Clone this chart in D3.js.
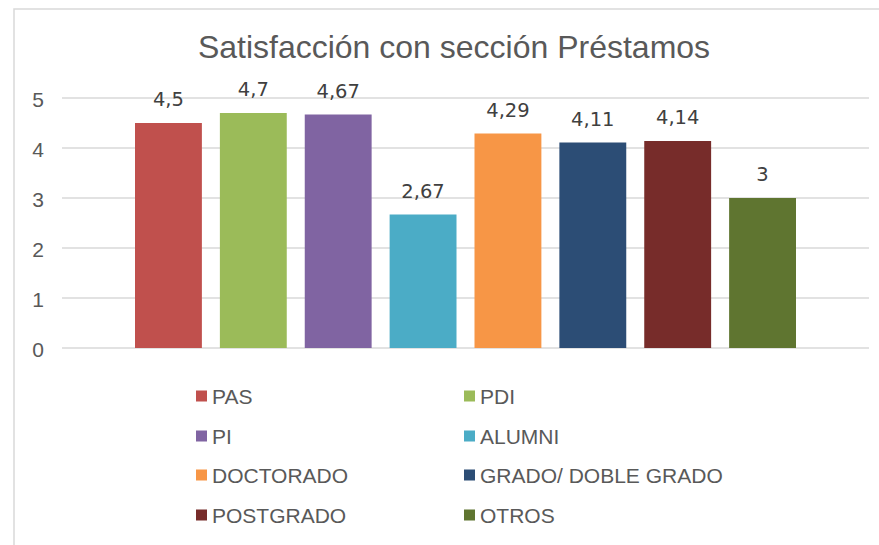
<!DOCTYPE html>
<html>
<head>
<meta charset="utf-8">
<script src="https://cdn.jsdelivr.net/npm/d3@7"></script>
<style>
  html, body { margin: 0; padding: 0; background: #ffffff; }
  svg { display: block; }
</style>
</head>
<body>
<svg id="chart" width="879" height="545"></svg>
<script>
const title = "Satisfacción con sección Préstamos";
const categories = ["PAS", "PDI", "PI", "ALUMNI", "DOCTORADO", "GRADO/ DOBLE GRADO", "POSTGRADO", "OTROS"];
const values = [4.5, 4.7, 4.67, 2.67, 4.29, 4.11, 4.14, 3];
const valueLabels = ["4,5", "4,7", "4,67", "2,67", "4,29", "4,11", "4,14", "3"];
const colors = ["#C0504D", "#9BBB59", "#8064A2", "#4BACC6", "#F79646", "#2C4D75", "#772C2A", "#5F7530"];
const yTicks = [0, 1, 2, 3, 4, 5];

const svg = d3.select("#chart");

// chart frame
svg.append("rect")
  .attr("x", 14).attr("y", 9)
  .attr("width", 880).attr("height", 560)
  .attr("fill", "#ffffff")
  .attr("stroke", "#d9d9d9").attr("stroke-width", 1.5);

// title
svg.append("text")
  .attr("x", 454).attr("y", 58)
  .attr("text-anchor", "middle")
  .attr("font-family", "Liberation Sans, Arial, sans-serif")
  .attr("font-size", 32)
  .attr("fill", "#595959")
  .text(title);

const plotLeft = 62, plotRight = 869;
const y = d3.scaleLinear().domain([0, 5]).range([348, 98]);
const x = d3.scaleBand().domain(categories).range([135, 796]).paddingInner(0.212).paddingOuter(0);

// gridlines
svg.append("g").selectAll("line")
  .data(yTicks)
  .join("line")
  .attr("x1", plotLeft).attr("x2", plotRight)
  .attr("y1", d => y(d)).attr("y2", d => y(d))
  .attr("stroke", "#d9d9d9").attr("stroke-width", 1.5);

// y axis labels
const yAxis = d3.axisLeft(y).tickValues(yTicks).tickSize(0).tickPadding(0).tickFormat(d3.format("d"));
const yg = svg.append("g").attr("transform", "translate(44,0)").call(yAxis);
yg.select(".domain").remove();
yg.selectAll("text")
  .attr("font-family", "Liberation Sans, Arial, sans-serif")
  .attr("font-size", 21)
  .attr("fill", "#595959")
  .attr("dy", "0.4em");

// bars
svg.append("g").selectAll("rect")
  .data(categories)
  .join("rect")
  .attr("x", d => x(d))
  .attr("width", x.bandwidth())
  .attr("y", (d, i) => y(values[i]))
  .attr("height", (d, i) => y(0) - y(values[i]))
  .attr("fill", (d, i) => colors[i]);

// data labels
svg.append("g").selectAll("text")
  .data(categories)
  .join("text")
  .attr("x", d => x(d) + x.bandwidth() / 2)
  .attr("y", (d, i) => y(values[i]) - 17)
  .attr("text-anchor", "middle")
  .attr("font-family", "DejaVu Sans, sans-serif")
  .attr("font-size", 19.5)
  .attr("fill", "#404040")
  .text((d, i) => valueLabels[i]);

// legend
const legendCols = [196, 464];
const legendRows = [396, 436, 475, 515];
const lg = svg.append("g").selectAll("g")
  .data(categories)
  .join("g")
  .attr("transform", (d, i) => `translate(${legendCols[i % 2]},${legendRows[Math.floor(i / 2)]})`);
lg.append("rect")
  .attr("x", 0).attr("y", -5.5)
  .attr("width", 11).attr("height", 11)
  .attr("fill", (d, i) => colors[i]);
lg.append("text")
  .attr("x", 16).attr("y", 0)
  .attr("dy", "0.36em")
  .attr("font-family", "Liberation Sans, Arial, sans-serif")
  .attr("font-size", 21)
  .attr("fill", "#595959")
  .text(d => d);
</script>
</body>
</html>
